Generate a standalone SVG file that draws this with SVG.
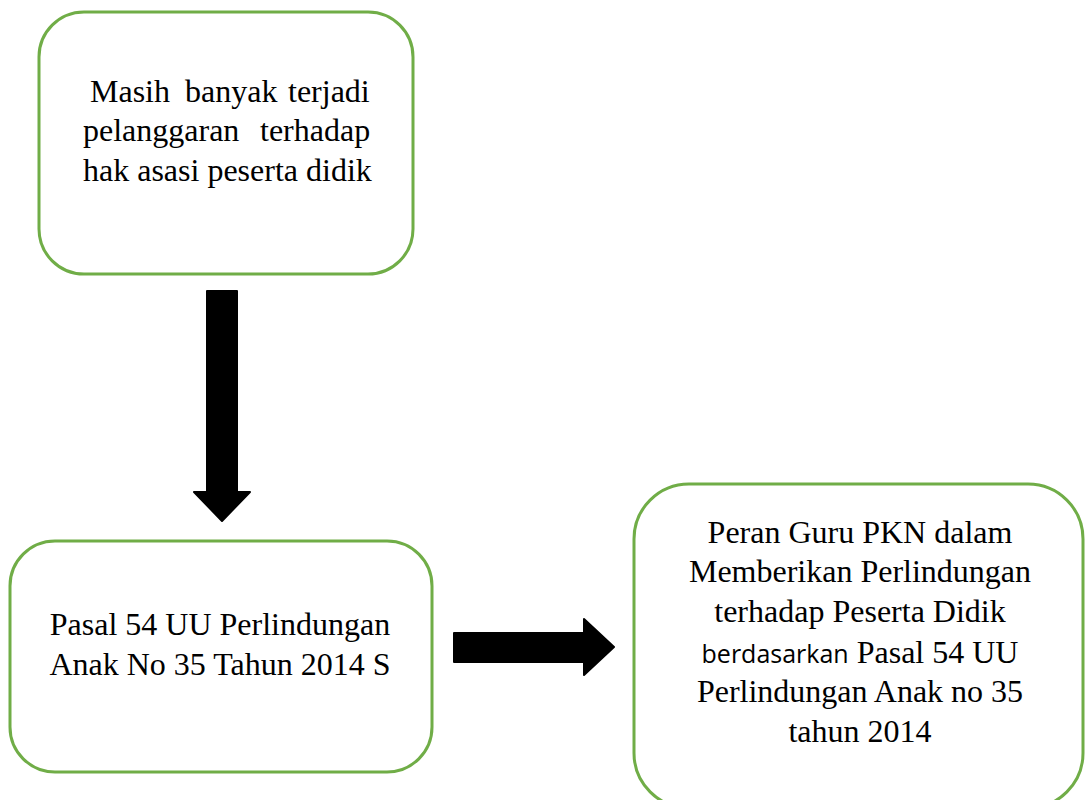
<svg xmlns="http://www.w3.org/2000/svg" width="1087" height="800" viewBox="0 0 1087 800">
<style>
.box{fill:#ffffff;stroke:#70AD47;stroke-width:3}
.t{font-family:"Liberation Serif","Times New Roman",serif;font-size:32px;fill:#000}
.m{text-anchor:middle}
.s{font-family:"Open Sans","Noto Sans",sans-serif;font-size:25px}
.arrow{fill:#000;stroke:#000;stroke-width:2;stroke-linejoin:round}
</style>
<rect width="1087" height="800" fill="#ffffff"/>
<g id="node1">
<rect class="box" x="39" y="12" width="374" height="262" rx="45" ry="45"/>
<text class="t"><tspan x="90" y="102">Masih</tspan><tspan x="185" y="102">banyak</tspan><tspan x="288" y="102">terjadi</tspan></text>
<text class="t"><tspan x="83" y="141">pelanggaran</tspan><tspan x="260" y="141">terhadap</tspan></text>
<text class="t" x="83" y="181">hak asasi peserta didik</text>
</g>
<g id="node2">
<rect class="box" x="10" y="541" width="422" height="231" rx="45" ry="45"/>
<text class="t m" x="220" y="635">Pasal 54 UU Perlindungan</text>
<text class="t m" x="220" y="675">Anak No 35 Tahun 2014 S</text>
</g>
<g id="node3">
<rect class="box" x="634" y="484" width="449" height="324" rx="55" ry="55"/>
<text class="t m" x="860" y="543">Peran Guru PKN dalam</text>
<text class="t m" x="860" y="582">Memberikan Perlindungan</text>
<text class="t m" x="860" y="622">terhadap Peserta Didik</text>
<text class="t m" x="860" y="663"><tspan class="s">berdasarkan</tspan> Pasal 54 UU</text>
<text class="t m" x="860" y="702">Perlindungan Anak no 35</text>
<text class="t m" x="860" y="742">tahun 2014</text>
</g>
<g id="connectors">
<path class="arrow" d="M207 291 H237 V492 H250 L222 521 L194 492 H207 Z"/>
<path class="arrow" d="M454 633 H584 V619 L614 647 L584 675 V662 H454 Z"/>
</g>
</svg>
